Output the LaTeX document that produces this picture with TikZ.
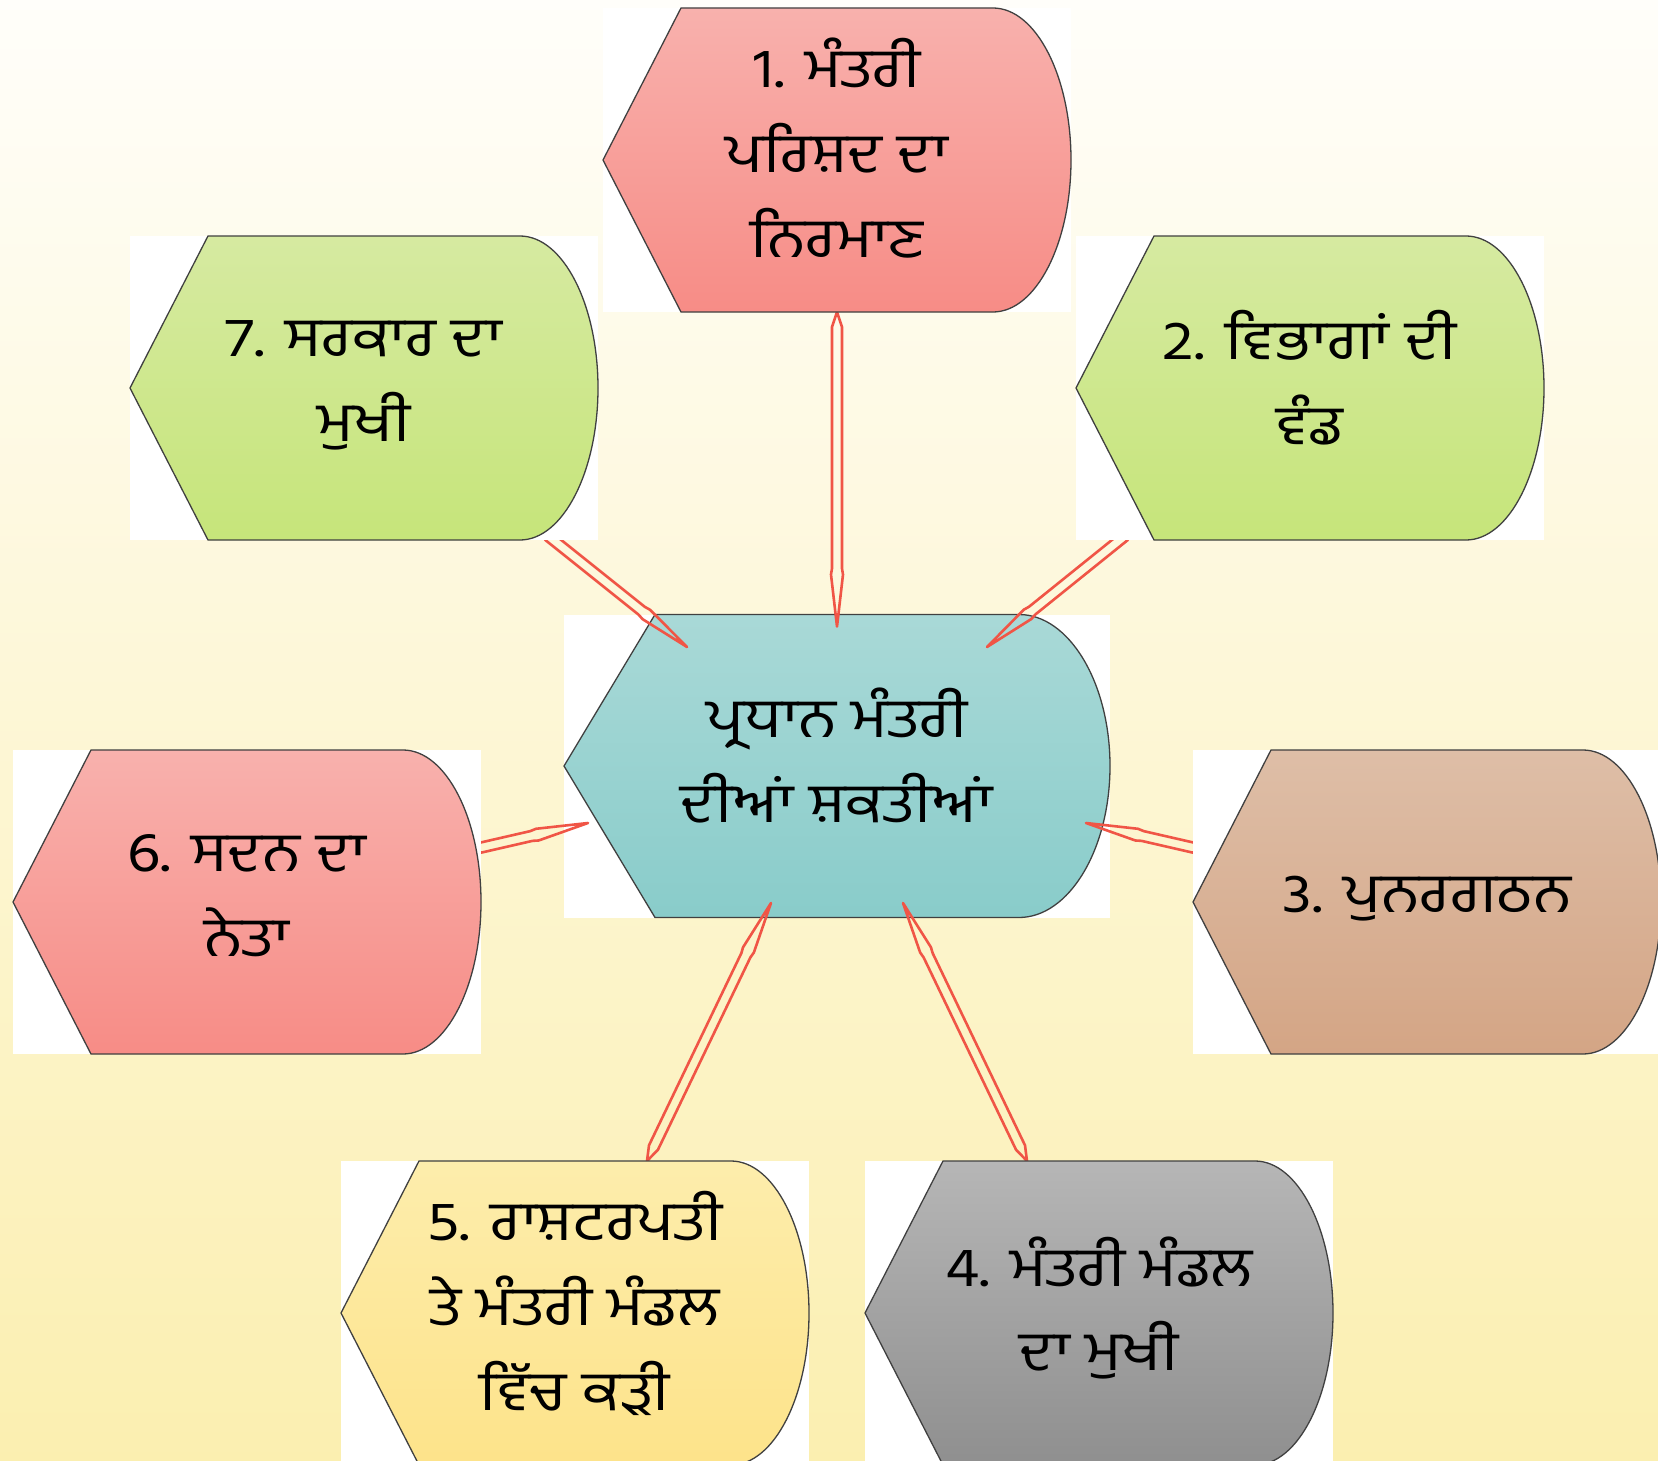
\documentclass[tikz,border=0pt]{standalone}
\usepackage{fontspec}
\newfontfamily\gurmukhi[Script=Gurmukhi, FakeStretch=1.15]{Hind Jalandhar}
\usetikzlibrary{calc}
\pgfdeclarelayer{pagebg}
\pgfdeclarelayer{core}
\pgfdeclarelayer{links}
\pgfdeclarelayer{boxes}
\pgfsetlayers{pagebg,core,links,boxes,main}
\definecolor{pagetop}{RGB}{255,254,250}
\definecolor{pagebot}{RGB}{251,239,176}
\definecolor{linkred}{RGB}{240,85,70}
\definecolor{rosyA}{RGB}{248,177,173}
\definecolor{rosyB}{RGB}{247,140,134}
\definecolor{limeA}{RGB}{214,234,161}
\definecolor{limeB}{RGB}{198,229,122}
\definecolor{tanA}{RGB}{222,190,167}
\definecolor{tanB}{RGB}{212,165,133}
\definecolor{greyA}{RGB}{182,182,182}
\definecolor{greyB}{RGB}{143,143,143}
\definecolor{sandA}{RGB}{253,237,172}
\definecolor{sandB}{RGB}{253,227,138}
\definecolor{tealA}{RGB}{169,217,215}
\definecolor{tealB}{RGB}{137,204,202}
\tikzset{
	power/.style={rectangle, inner sep=0pt, outer sep=0pt, minimum width=468pt, minimum height=304pt},
	hub/.style={power, minimum width=546pt, minimum height=303pt},
	caption/.style={inner sep=0pt, align=center, font=\gurmukhi\fontsize{55}{85}\selectfont},
	outline/.style={draw=black!75, line width=1.3pt},
	link/.style={draw=linkred, line width=2.6pt, line join=round},
}
\newcommand\dispshape[2]{%
	\path[#2] let \p1=(#1.north west), \p2=(#1.south east), \p3=(#1.center),
		\n1={(\x2-\x1)/6}, \n2={(\y1-\y2)/2} in
		(\x1,\y3) -- (\x1+\n1,\y1) -- (\x2-\n1,\y1)
		.. controls (\x2-0.45*\n1,\y1) and (\x2,\y3+0.55*\n2) .. (\x2,\y3)
		.. controls (\x2,\y3-0.55*\n2) and (\x2-0.45*\n1,\y2) .. (\x2-\n1,\y2)
		-- (\x1+\n1,\y2) -- cycle;}
\newcommand\linkarrow[2]{%
	\draw[link] let \p1=($(#2)-(#1)$), \n1={atan2(\y1,\x1)}, \n2={veclen(\x1,\y1)} in
		(#1) -- ($(#1)+(\n1:15pt)+(\n1+90:5pt)$)
		-- ($(#1)+({\n1}:{\n2-58pt})+({\n1+90}:5pt)$)
		-- ($(#1)+({\n1}:{\n2-52pt})+({\n1+90}:6pt)$)
		-- (#2)
		-- ($(#1)+({\n1}:{\n2-52pt})+({\n1-90}:6pt)$)
		-- ($(#1)+({\n1}:{\n2-58pt})+({\n1-90}:5pt)$)
		-- ($(#1)+(\n1:15pt)+(\n1-90:5pt)$) -- cycle;}

\begin{document}
\begin{tikzpicture}[x=1pt, y=-1pt]
	\useasboundingbox (0,0) rectangle (1658,1461);
	\node[hub] (pm) at (837,766) {};
	\node[power] (b1) at (837,160) {};
	\node[power] (b2) at (1310,388) {};
	\node[power] (b3) at (1427,902) {};
	\node[power] (b4) at (1099,1313) {};
	\node[power] (b5) at (575,1313) {};
	\node[power] (b6) at (247,902) {};
	\node[power] (b7) at (364,388) {};

	\node[caption, yshift=11] (tpm) at (pm) {ਪ੍ਰਧਾਨ ਮੰਤਰੀ\\ਦੀਆਂ ਸ਼ਕਤੀਆਂ};
	\node[caption, yshift=12] (t1) at (b1) {1. ਮੰਤਰੀ\\ਪਰਿਸ਼ਦ ਦਾ\\ਨਿਰਮਾਣ};
	\node[caption, yshift=10] (t2) at (b2) {2. ਵਿਭਾਗਾਂ ਦੀ\\ਵੰਡ};
	\node[caption, yshift=3] (t3) at (b3) {3. ਪੁਨਰਗਠਨ};
	\node[caption, yshift=5] (t4) at (b4) {4. ਮੰਤਰੀ ਮੰਡਲ\\ਦਾ ਮੁਖੀ};
	\node[caption, yshift=10] (t5) at (b5) {5. ਰਾਸ਼ਟਰਪਤੀ\\ਤੇ ਮੰਤਰੀ ਮੰਡਲ\\ਵਿੱਚ ਕੜੀ};
	\node[caption, yshift=6] (t6) at (b6) {6. ਸਦਨ ਦਾ\\ਨੇਤਾ};
	\node[caption, yshift=3] (t7) at (b7) {7. ਸਰਕਾਰ ਦਾ\\ਮੁਖੀ};

	\coordinate (tip1) at ($(pm.north)+(0,12)$);
	\coordinate (tip2) at ($(pm.center)+(150,-119)$);
	\coordinate (tip3) at ($(pm.center)+(249,57)$);
	\coordinate (tip4) at ($(pm.center)+(66,137)$);
	\coordinate (tip5) at ($(pm.center)+(-66,137)$);
	\coordinate (tip6) at ($(pm.center)+(-249,57)$);
	\coordinate (tip7) at ($(pm.center)+(-150,-119)$);
	\coordinate (tail2) at ($(b2.south west)+(60,-13)$);
	\coordinate (tail3) at ($(b3.west)+(15,-51)$);
	\coordinate (tail4) at ($(b4.north)+(-72,0)$);
	\coordinate (tail5) at ($(b5.north)+(72,0)$);
	\coordinate (tail6) at ($(b6.east)+(-15,-51)$);
	\coordinate (tail7) at ($(b7.south east)+(-61,-13)$);

	\begin{pgfonlayer}{pagebg}
		\shade[top color=pagetop, bottom color=pagebot] (0,0) rectangle (1658,1461);
	\end{pgfonlayer}
	\begin{pgfonlayer}{core}
		\fill[white] (pm.north west) rectangle (pm.south east);
		\dispshape{pm}{outline, top color=tealA, bottom color=tealB}
	\end{pgfonlayer}
	\begin{pgfonlayer}{links}
		\linkarrow{b1.south}{tip1}
		\foreach \i in {2,...,7}{
			\linkarrow{tail\i}{tip\i}
		}
	\end{pgfonlayer}
	\begin{pgfonlayer}{boxes}
		\foreach \nm/\cl in {b1/rosy, b2/lime, b3/tan, b4/grey, b5/sand, b6/rosy, b7/lime}{
			\fill[white] (\nm.north west) rectangle (\nm.south east);
			\dispshape{\nm}{outline, top color=\cl A, bottom color=\cl B}
		}
	\end{pgfonlayer}
\end{tikzpicture}
\end{document}
